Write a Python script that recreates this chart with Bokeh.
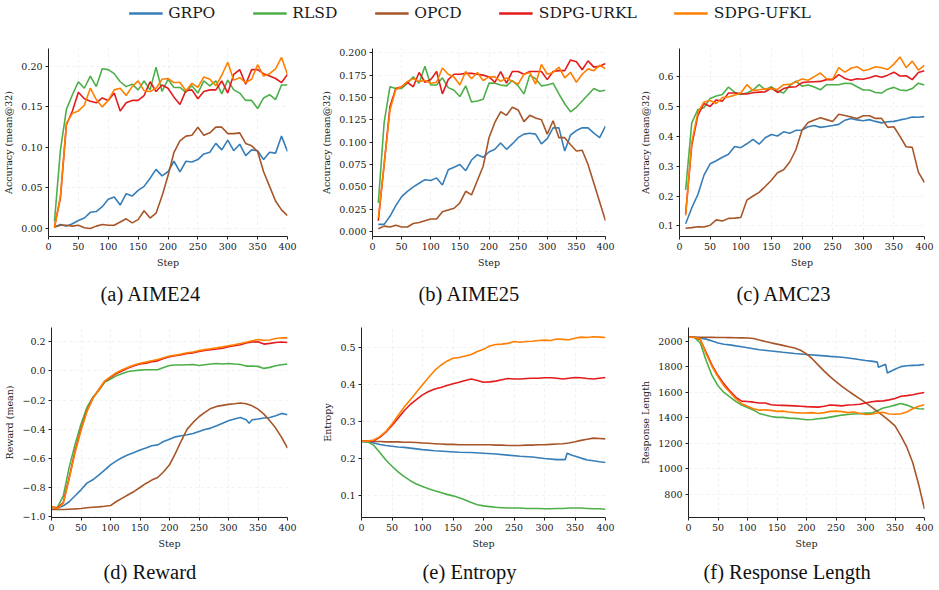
from bokeh.plotting import figure
from bokeh.layouts import column, row
from bokeh.models import (Legend, LegendItem, FixedTicker, CustomJSTickFormatter,
                          Title, Range1d)
from bokeh.embed import file_html
from bokeh.resources import INLINE

METHODS = ["GRPO", "RLSD", "OPCD", "SDPG-URKL", "SDPG-UFKL"]
COLORS = ["#377eb8", "#4daf4a", "#a65628", "#e41a1c", "#ff7f00"]

# evaluation checkpoints (every 10 training steps)
EVAL_STEPS = list(range(10, 401, 10))
# training-curve sample steps
TRAIN_STEPS = list(range(0, 401, 10))
X_TICKS = [0, 50, 100, 150, 200, 250, 300, 350, 400]

# ---------------- (a) AIME24 accuracy ----------------
aime24_grpo = [0.002, 0.005, 0.003, 0.006, 0.010, 0.013, 0.020, 0.021, 0.027, 0.036,
               0.039, 0.029, 0.043, 0.040, 0.047, 0.052, 0.062, 0.073, 0.065, 0.070,
               0.083, 0.070, 0.083, 0.082, 0.085, 0.092, 0.094, 0.105, 0.097, 0.109,
               0.096, 0.104, 0.090, 0.097, 0.096, 0.085, 0.094, 0.093, 0.114, 0.095]
aime24_rlsd = [0.009, 0.097, 0.147, 0.165, 0.181, 0.173, 0.188, 0.175, 0.197, 0.196,
               0.191, 0.181, 0.175, 0.178, 0.171, 0.182, 0.171, 0.199, 0.169, 0.184,
               0.174, 0.174, 0.168, 0.176, 0.167, 0.182, 0.176, 0.182, 0.166, 0.183,
               0.171, 0.167, 0.158, 0.158, 0.148, 0.161, 0.165, 0.159, 0.177, 0.177]
aime24_opcd = [0.002, 0.004, 0.004, 0.003, 0.004, 0.001, 0.000, 0.003, 0.005, 0.004,
               0.004, 0.008, 0.012, 0.007, 0.011, 0.022, 0.013, 0.019, 0.040, 0.065,
               0.094, 0.108, 0.114, 0.115, 0.125, 0.115, 0.118, 0.125, 0.125, 0.117,
               0.117, 0.118, 0.105, 0.102, 0.095, 0.070, 0.052, 0.034, 0.023, 0.016]
aime24_urkl = [0.002, 0.038, 0.128, 0.145, 0.168, 0.160, 0.157, 0.155, 0.161, 0.158,
               0.167, 0.145, 0.155, 0.158, 0.158, 0.164, 0.181, 0.169, 0.177, 0.173,
               0.162, 0.153, 0.170, 0.171, 0.160, 0.169, 0.171, 0.171, 0.182, 0.167,
               0.190, 0.196, 0.178, 0.196, 0.196, 0.191, 0.188, 0.185, 0.180, 0.190]
aime24_ufkl = [0.001, 0.040, 0.130, 0.142, 0.145, 0.152, 0.173, 0.159, 0.150, 0.158,
               0.171, 0.173, 0.164, 0.175, 0.182, 0.170, 0.169, 0.173, 0.184, 0.185,
               0.180, 0.180, 0.170, 0.179, 0.174, 0.187, 0.184, 0.176, 0.189, 0.205,
               0.183, 0.186, 0.180, 0.184, 0.202, 0.188, 0.191, 0.197, 0.211, 0.190]

# ---------------- (b) AIME25 accuracy ----------------
aime25_grpo = [0.008, 0.008, 0.017, 0.029, 0.039, 0.045, 0.050, 0.054, 0.058, 0.057,
               0.060, 0.052, 0.069, 0.072, 0.075, 0.068, 0.080, 0.086, 0.083, 0.089,
               0.092, 0.099, 0.092, 0.098, 0.105, 0.109, 0.110, 0.109, 0.098, 0.104,
               0.116, 0.116, 0.090, 0.108, 0.113, 0.116, 0.116, 0.110, 0.105, 0.118]
aime25_rlsd = [0.032, 0.122, 0.162, 0.160, 0.160, 0.166, 0.173, 0.166, 0.185, 0.164,
               0.164, 0.172, 0.161, 0.158, 0.151, 0.163, 0.145, 0.146, 0.148, 0.166,
               0.166, 0.164, 0.163, 0.169, 0.163, 0.154, 0.175, 0.171, 0.163, 0.164,
               0.166, 0.154, 0.143, 0.134, 0.139, 0.146, 0.153, 0.160, 0.157, 0.158]
aime25_opcd = [0.003, 0.006, 0.005, 0.007, 0.005, 0.005, 0.009, 0.010, 0.012, 0.014,
               0.014, 0.022, 0.024, 0.026, 0.032, 0.045, 0.041, 0.057, 0.073, 0.105,
               0.122, 0.134, 0.130, 0.139, 0.136, 0.123, 0.130, 0.127, 0.125, 0.109,
               0.124, 0.105, 0.105, 0.097, 0.090, 0.091, 0.075, 0.054, 0.033, 0.012]
aime25_urkl = [0.012, 0.075, 0.140, 0.160, 0.162, 0.167, 0.162, 0.178, 0.167, 0.170,
               0.179, 0.154, 0.170, 0.176, 0.176, 0.177, 0.177, 0.176, 0.175, 0.173,
               0.167, 0.179, 0.166, 0.179, 0.179, 0.176, 0.179, 0.179, 0.179, 0.170,
               0.179, 0.180, 0.180, 0.192, 0.190, 0.181, 0.191, 0.184, 0.185, 0.188]
aime25_ufkl = [0.015, 0.075, 0.136, 0.159, 0.162, 0.168, 0.171, 0.168, 0.169, 0.166,
               0.167, 0.183, 0.176, 0.173, 0.164, 0.179, 0.171, 0.178, 0.169, 0.173,
               0.173, 0.168, 0.172, 0.168, 0.165, 0.176, 0.178, 0.165, 0.187, 0.176,
               0.178, 0.184, 0.172, 0.178, 0.167, 0.176, 0.182, 0.180, 0.186, 0.182]

# ---------------- (c) AMC23 accuracy ----------------
amc23_grpo = [0.107, 0.160, 0.205, 0.270, 0.308, 0.318, 0.330, 0.340, 0.366, 0.362,
              0.375, 0.390, 0.374, 0.395, 0.406, 0.401, 0.415, 0.410, 0.420, 0.421,
              0.432, 0.436, 0.430, 0.433, 0.436, 0.440, 0.454, 0.460, 0.455, 0.452,
              0.456, 0.450, 0.445, 0.449, 0.450, 0.455, 0.459, 0.465, 0.464, 0.466]
amc23_rlsd = [0.220, 0.445, 0.490, 0.496, 0.527, 0.535, 0.540, 0.565, 0.548, 0.540,
              0.545, 0.555, 0.573, 0.556, 0.566, 0.552, 0.545, 0.570, 0.585, 0.568,
              0.572, 0.565, 0.556, 0.573, 0.573, 0.573, 0.578, 0.577, 0.566, 0.555,
              0.555, 0.547, 0.545, 0.558, 0.564, 0.555, 0.553, 0.560, 0.578, 0.572]
amc23_opcd = [0.092, 0.094, 0.097, 0.096, 0.102, 0.120, 0.116, 0.125, 0.126, 0.128,
              0.186, 0.200, 0.212, 0.232, 0.253, 0.278, 0.288, 0.314, 0.355, 0.420,
              0.446, 0.455, 0.462, 0.456, 0.450, 0.474, 0.470, 0.465, 0.460, 0.469,
              0.469, 0.460, 0.460, 0.430, 0.432, 0.400, 0.365, 0.363, 0.280, 0.245]
amc23_urkl = [0.140, 0.370, 0.470, 0.510, 0.500, 0.522, 0.518, 0.545, 0.545, 0.543,
              0.542, 0.546, 0.548, 0.549, 0.562, 0.547, 0.560, 0.565, 0.566, 0.580,
              0.582, 0.583, 0.584, 0.590, 0.590, 0.607, 0.594, 0.588, 0.593, 0.591,
              0.596, 0.603, 0.598, 0.605, 0.615, 0.602, 0.603, 0.590, 0.614, 0.620]
amc23_ufkl = [0.135, 0.380, 0.480, 0.515, 0.520, 0.510, 0.530, 0.532, 0.538, 0.545,
              0.573, 0.553, 0.556, 0.559, 0.560, 0.557, 0.573, 0.574, 0.582, 0.592,
              0.588, 0.600, 0.612, 0.593, 0.592, 0.630, 0.615, 0.628, 0.633, 0.620,
              0.625, 0.633, 0.630, 0.624, 0.642, 0.666, 0.630, 0.652, 0.622, 0.638]

# ---------------- (d) mean reward ----------------
reward_grpo_steps = [0, 10, 20, 30, 40, 50, 60, 70, 80, 90,
                     100, 110, 120, 130, 140, 150, 160, 170, 180, 190,
                     200, 210, 220, 230, 240, 250, 260, 270, 280, 290,
                     300, 310, 320, 330, 335, 340, 350, 360, 370, 380, 390, 400]
reward_grpo = [-0.938, -0.943, -0.927, -0.899, -0.858, -0.817, -0.771, -0.748, -0.716, -0.682,
               -0.645, -0.618, -0.595, -0.576, -0.560, -0.544, -0.530, -0.514, -0.508, -0.485,
               -0.469, -0.453, -0.446, -0.439, -0.430, -0.416, -0.402, -0.393, -0.377, -0.359,
               -0.343, -0.331, -0.320, -0.336, -0.359, -0.336, -0.331, -0.324, -0.320, -0.308,
               -0.292, -0.301]
reward_rlsd = [-0.938, -0.938, -0.858, -0.663, -0.503, -0.366, -0.251, -0.182, -0.137, -0.079,
               -0.056, -0.034, -0.018, -0.004, 0.001, 0.005, 0.008, 0.008, 0.008, 0.024,
               0.037, 0.040, 0.040, 0.042, 0.044, 0.037, 0.042, 0.047, 0.051, 0.047,
               0.051, 0.047, 0.044, 0.033, 0.033, 0.031, 0.017, 0.024, 0.035, 0.042, 0.047]
reward_opcd = [-0.952, -0.952, -0.952, -0.950, -0.948, -0.945, -0.940, -0.937, -0.934, -0.930,
               -0.925, -0.897, -0.874, -0.851, -0.828, -0.801, -0.773, -0.750, -0.732, -0.693,
               -0.645, -0.567, -0.480, -0.400, -0.354, -0.315, -0.285, -0.258, -0.244, -0.237,
               -0.230, -0.226, -0.221, -0.226, -0.240, -0.263, -0.297, -0.343, -0.393, -0.457,
               -0.530]
reward_urkl = [-0.935, -0.940, -0.904, -0.732, -0.549, -0.400, -0.274, -0.187, -0.130, -0.072,
               -0.045, -0.018, 0.001, 0.019, 0.035, 0.047, 0.053, 0.063, 0.069, 0.085,
               0.097, 0.104, 0.111, 0.120, 0.124, 0.134, 0.140, 0.145, 0.150, 0.156,
               0.166, 0.173, 0.179, 0.191, 0.198, 0.200, 0.184, 0.189, 0.195, 0.198, 0.195]
reward_ufkl = [-0.935, -0.945, -0.910, -0.740, -0.560, -0.410, -0.280, -0.190, -0.130, -0.070,
               -0.040, -0.012, 0.008, 0.025, 0.040, 0.052, 0.060, 0.070, 0.078, 0.090,
               0.102, 0.108, 0.116, 0.125, 0.130, 0.139, 0.146, 0.152, 0.158, 0.165,
               0.173, 0.180, 0.188, 0.197, 0.207, 0.215, 0.210, 0.212, 0.222, 0.228, 0.227]

# ---------------- (e) policy entropy ----------------
entropy_grpo_steps = [0, 10, 20, 30, 40, 50, 60, 70, 80, 90,
                      100, 120, 140, 160, 180, 200, 220, 240, 260, 280,
                      300, 320, 334, 337, 345, 360, 370, 380, 390, 400]
entropy_grpo = [0.245, 0.244, 0.241, 0.237, 0.234, 0.232, 0.230, 0.229, 0.227, 0.225,
                0.223, 0.220, 0.218, 0.216, 0.215, 0.213, 0.211, 0.208, 0.205, 0.203,
                0.199, 0.196, 0.196, 0.213, 0.208, 0.200, 0.195, 0.193, 0.190, 0.188]
entropy_rlsd = [0.245, 0.244, 0.235, 0.215, 0.195, 0.178, 0.163, 0.150, 0.139, 0.130,
                0.123, 0.117, 0.112, 0.107, 0.102, 0.098, 0.093, 0.087, 0.080, 0.074,
                0.071, 0.069, 0.067, 0.066, 0.065, 0.065, 0.065, 0.064, 0.064, 0.064,
                0.063, 0.063, 0.064, 0.064, 0.065, 0.065, 0.065, 0.064, 0.063, 0.063, 0.062]
entropy_opcd = [0.246, 0.246, 0.245, 0.245, 0.244, 0.244, 0.244, 0.243, 0.243, 0.242,
                0.241, 0.240, 0.239, 0.238, 0.237, 0.237, 0.236, 0.236, 0.236, 0.236,
                0.236, 0.236, 0.235, 0.235, 0.234, 0.234, 0.234, 0.235, 0.235, 0.236,
                0.236, 0.237, 0.238, 0.239, 0.241, 0.244, 0.248, 0.251, 0.254, 0.253, 0.252]
entropy_urkl = [0.246, 0.246, 0.247, 0.256, 0.270, 0.288, 0.308, 0.328, 0.345, 0.358,
                0.371, 0.380, 0.387, 0.391, 0.396, 0.401, 0.405, 0.410, 0.414, 0.410,
                0.405, 0.406, 0.408, 0.412, 0.415, 0.414, 0.414, 0.415, 0.416, 0.416,
                0.417, 0.417, 0.416, 0.414, 0.416, 0.418, 0.417, 0.415, 0.414, 0.416, 0.418]
entropy_ufkl = [0.246, 0.246, 0.249, 0.258, 0.272, 0.292, 0.315, 0.338, 0.358, 0.378,
                0.398, 0.418, 0.437, 0.451, 0.462, 0.470, 0.472, 0.476, 0.480, 0.488,
                0.494, 0.503, 0.507, 0.508, 0.510, 0.515, 0.513, 0.515, 0.516, 0.518,
                0.519, 0.518, 0.522, 0.521, 0.520, 0.524, 0.527, 0.526, 0.528, 0.527, 0.526]

# ---------------- (f) response length ----------------
length_grpo_steps = [0, 10, 20, 30, 40, 50, 60, 70, 80, 90,
                     100, 120, 140, 160, 180, 200, 220, 240, 260, 280,
                     300, 310, 320, 322, 334, 337, 350, 360, 370, 380, 390, 400]
length_grpo = [2030, 2030, 2025, 2015, 2000, 1985, 1975, 1970, 1962, 1955,
               1948, 1932, 1922, 1912, 1903, 1895, 1888, 1880, 1873, 1862,
               1848, 1843, 1835, 1795, 1818, 1750, 1780, 1800, 1807, 1810, 1812, 1817]
length_rlsd = [2030, 2028, 1985, 1846, 1729, 1650, 1598, 1564, 1528, 1499,
               1481, 1460, 1434, 1421, 1410, 1403, 1403, 1397, 1395, 1390,
               1384, 1387, 1392, 1397, 1405, 1413, 1421, 1426, 1429, 1431,
               1436, 1436, 1455, 1476, 1486, 1499, 1512, 1499, 1481, 1470, 1468]
length_opcd = [2030, 2030, 2030, 2030, 2029, 2028, 2028, 2027, 2026, 2025,
               2024, 2020, 2008, 1997, 1986, 1976, 1966, 1955, 1945, 1928,
               1900, 1860, 1812, 1765, 1722, 1682, 1645, 1612, 1580, 1550,
               1518, 1485, 1450, 1414, 1377, 1337, 1259, 1170, 1050, 880, 685]
length_urkl = [2030, 2030, 2010, 1910, 1810, 1730, 1665, 1610, 1562, 1530,
               1527, 1522, 1515, 1515, 1502, 1498, 1497, 1495, 1493, 1490,
               1487, 1485, 1483, 1490, 1500, 1497, 1493, 1500, 1502, 1506,
               1515, 1525, 1530, 1532, 1540, 1550, 1568, 1573, 1580, 1590, 1597]
length_ufkl = [2030, 2030, 2015, 1900, 1800, 1720, 1650, 1600, 1550, 1510,
               1490, 1470, 1460, 1462, 1458, 1450, 1452, 1445, 1440, 1437,
               1438, 1440, 1433, 1440, 1450, 1452, 1448, 1440, 1445, 1435,
               1425, 1428, 1438, 1443, 1430, 1428, 1432, 1445, 1470, 1490, 1502]

SERIF = "DejaVu Serif"
CAPTION_FONT = "Liberation Serif"
TEXT_COLOR = "#1a1a1a"


def make_panel(series, ylabel, y_range, y_ticks, y_digits, caption,
               border_left, border_right, border_top, border_bottom, height,
               cap_offset, cap_standoff):
    p = figure(width=313, height=height, x_range=Range1d(0, 400),
               y_range=Range1d(*y_range), toolbar_location=None,
               output_backend="svg",
               min_border_left=border_left, min_border_right=border_right,
               min_border_top=border_top, min_border_bottom=border_bottom)
    p.outline_line_color = None
    p.background_fill_color = "white"
    for (xs, ys), color in zip(series, COLORS):
        p.line(xs, ys, line_color=color, line_width=1.6)

    p.xaxis.axis_label = "Step"
    p.yaxis.axis_label = ylabel
    p.xaxis.ticker = FixedTicker(ticks=X_TICKS)
    p.yaxis.ticker = FixedTicker(ticks=y_ticks)
    p.yaxis.formatter = CustomJSTickFormatter(
        code="return tick.toFixed(%d).replace('-', '\\u2212');" % y_digits)
    for ax in p.axis:
        ax.axis_label_text_font = SERIF
        ax.axis_label_text_font_size = "9.5px"
        ax.axis_label_text_font_style = "normal"
        ax.axis_label_text_color = TEXT_COLOR
        ax.major_label_text_font = SERIF
        ax.major_label_text_font_size = "9.5px"
        ax.major_label_text_color = TEXT_COLOR
        ax.major_tick_out = 3
        ax.major_tick_in = 0
        ax.minor_tick_out = 0
        ax.minor_tick_in = 0
        ax.axis_line_color = "#222222"
        ax.major_tick_line_color = "#222222"
        ax.major_label_standoff = 3
        ax.axis_label_standoff = 4
    for g in (p.xgrid, p.ygrid):
        g.grid_line_color = "#e2e2e2"
        g.grid_line_alpha = 0.6
        g.grid_line_dash = "3 3"
        g.grid_line_width = 0.8
    # caption under the panel, left-aligned at a fixed offset from the frame
    p.add_layout(Title(text=caption, align="left", offset=cap_offset,
                       standoff=cap_standoff,
                       text_font=CAPTION_FONT, text_font_size="20.5px",
                       text_font_style="normal", text_color="#111111"), "below")
    return p


def bundle(xs_list, *ys_list):
    return list(zip(xs_list, ys_list))


acc_label = "Accuracy (mean@32)"
pa = make_panel(bundle([EVAL_STEPS] * 5, aime24_grpo, aime24_rlsd, aime24_opcd,
                       aime24_urkl, aime24_ufkl),
                acc_label, (-0.0098, 0.222), [0.0, 0.05, 0.10, 0.15, 0.20], 2,
                "(a) AIME24", 48, 26, 8, 77, 274, 52, 20)
pb = make_panel(bundle([EVAL_STEPS] * 5, aime25_grpo, aime25_rlsd, aime25_opcd,
                       aime25_urkl, aime25_ufkl),
                acc_label, (-0.0056, 0.2048),
                [0.0, 0.025, 0.05, 0.075, 0.10, 0.125, 0.15, 0.175, 0.20], 3,
                "(b) AIME25", 59, 21, 8, 77, 274, 46, 20)
pc = make_panel(bundle([EVAL_STEPS] * 5, amc23_grpo, amc23_rlsd, amc23_opcd,
                       amc23_urkl, amc23_ufkl),
                acc_label, (0.0643, 0.6943), [0.1, 0.2, 0.3, 0.4, 0.5, 0.6], 1,
                "(c) AMC23", 53, 15, 8, 77, 274, 57, 20)

pd_ = make_panel(bundle([reward_grpo_steps] + [TRAIN_STEPS] * 4, reward_grpo,
                        reward_rlsd, reward_opcd, reward_urkl, reward_ufkl),
                 "Reward (mean)", (-1.007, 0.298),
                 [-1.0, -0.8, -0.6, -0.4, -0.2, 0.0, 0.2], 1,
                 "(d) Reward", 51, 26, 13, 73, 276, 52, 14)
pe = make_panel(bundle([entropy_grpo_steps] + [TRAIN_STEPS] * 4, entropy_grpo,
                       entropy_rlsd, entropy_opcd, entropy_urkl, entropy_ufkl),
                "Entropy", (0.0395, 0.553), [0.1, 0.2, 0.3, 0.4, 0.5], 1,
                "(e) Entropy", 48, 21, 13, 73, 276, 61, 14)
pf = make_panel(bundle([length_grpo_steps] + [TRAIN_STEPS] * 4, length_grpo,
                       length_rlsd, length_opcd, length_urkl, length_ufkl),
                "Response Length", (620, 2106),
                [800, 1000, 1200, 1400, 1600, 1800, 2000], 0,
                "(f) Response Length", 62, 15, 13, 73, 276, 15, 14)

# shared legend strip across the top
leg = figure(width=939, height=40, x_range=Range1d(0, 1), y_range=Range1d(0, 1),
             toolbar_location=None, output_backend="svg",
             x_axis_type=None, y_axis_type=None, min_border=0)
leg.outline_line_color = None
leg.xgrid.visible = False
leg.ygrid.visible = False
items = []
for name, color in zip(METHODS, COLORS):
    # placeholder renderer: nothing drawn inside the strip, only its legend swatch
    r = leg.line(x=[0.0], y=[float("nan")], line_color=color, line_width=2.6)
    items.append(LegendItem(label=name, renderers=[r]))
legend = Legend(items=items, orientation="horizontal", location="top_center",
                glyph_width=34, glyph_height=20, label_standoff=6, spacing=37,
                padding=0, margin=3, border_line_color=None,
                background_fill_alpha=0,
                label_text_font=SERIF, label_text_font_size="15.5px",
                label_text_color=TEXT_COLOR)
leg.add_layout(legend)

layout = column(leg, row(pa, pb, pc), row(pd_, pe, pf))

with open("out.html", "w") as f:
    f.write(file_html(layout, INLINE, title="Training dynamics"))
